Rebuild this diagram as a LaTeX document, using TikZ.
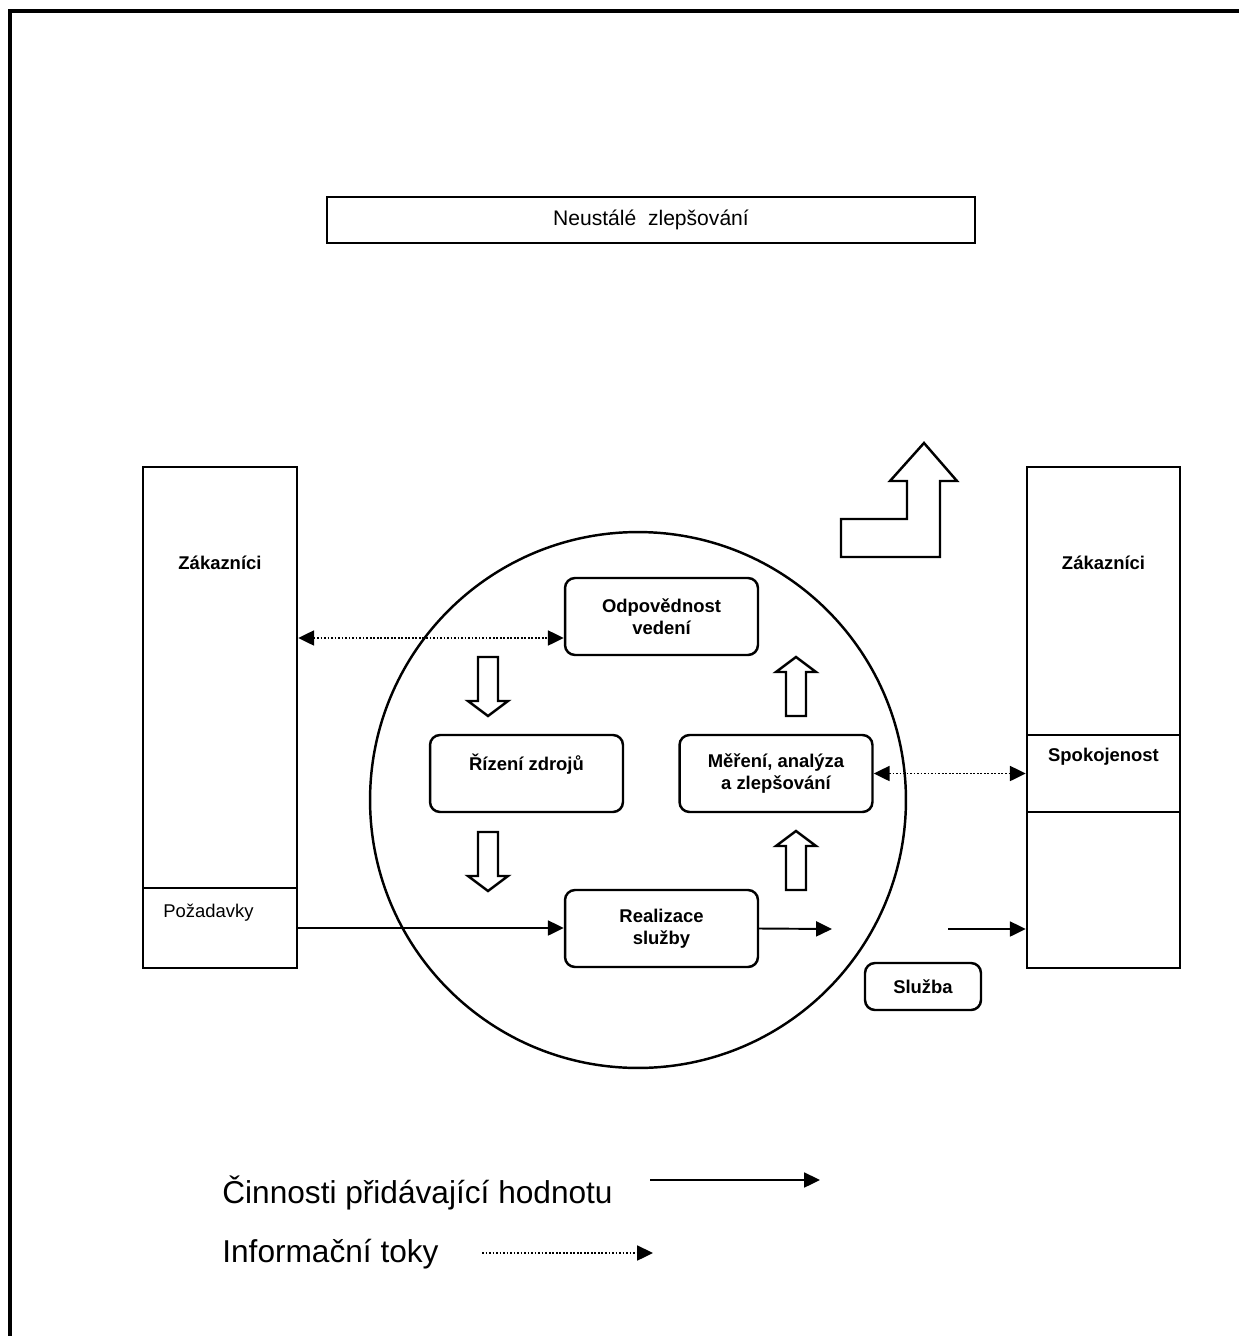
\documentclass[tikz,border=0pt]{standalone}
\usepackage{fontspec}
\setmainfont{Liberation Sans}
\usetikzlibrary{arrows.meta}

\tikzset{
  box/.style={draw, line width=1.4pt, inner sep=0pt},
  roundbox/.style={box, rounded corners=0.2cm, minimum width=3.86cm, minimum height=1.54cm,
    align=center, font=\fontsize{10.5}{12.5}\selectfont\bfseries},
  boldtxt/.style={font=\fontsize{10.5}{12.5}\selectfont\bfseries},
  plaintxt/.style={inner sep=0pt, font=\fontsize{10.5}{12.5}\selectfont},
  legendtxt/.style={inner sep=0pt, font=\fontsize{18}{21.6}\selectfont},
  valueflow/.style={line width=1.1pt},
  infoflow/.style={line width=1.1pt, dash pattern=on 1pt off 1pt},
  blockarrow/.style={draw, line width=1.4pt, line join=miter},
}

\begin{document}
\begin{tikzpicture}[x=0.02cm, y=-0.02cm, >={Triangle[length=9pt,width=8.5pt]}]
\useasboundingbox (0,0) rectangle (1239,1336);
\draw [line width=1.8pt] (10,1336) -- (10,11) -- (1239,11);

% top box
\node [box, minimum width=12.96cm, minimum height=0.92cm, font=\fontsize{12}{14}\selectfont] (improve) at (651,220) {Neustálé~~zlepšování};

% customers, left
\node [box, minimum width=3.08cm, minimum height=8.42cm] (lcol) at (220,677.5) {};
\node [box, minimum width=3.08cm, minimum height=1.6cm] (lreq) at (220,928) {};
\node [boldtxt] (lcust) at (220,563) {Zákazníci};
\node [plaintxt, anchor=base west] (lreqtxt) at (163,917) {Požadavky};

% customers, right
\node [box, minimum width=3.06cm, minimum height=5.36cm] (rcol) at (1103.5,601) {};
\node [box, minimum width=3.06cm, minimum height=1.54cm] (rsat) at (1103.5,773.5) {};
\node [box, minimum width=3.06cm, minimum height=3.12cm] (rbot) at (1103.5,890) {};
\node [boldtxt] (rcust) at (1103.5,563) {Zákazníci};
\node [boldtxt] (rsattxt) at (1103.5,757) {Spokojenost};

% process cycle
\node [draw, circle, line width=1.4pt, minimum size=10.72cm] (cycle) at (638,800) {};
\node [roundbox] (resp) at (661.5,616.5) {Odpovědnost\\vedení};
\node [roundbox] (res) at (526.5,773.5) {Řízení zdrojů\\\mbox{}};
\node [roundbox] (meas) at (776,773.5) {Měření, analýza\\a zlepšování};
\node [roundbox] (real) at (661.5,928.5) {Realizace\\služby};
\node [roundbox, minimum width=2.32cm, minimum height=0.94cm] (service) at (923,986.5) {Služba};

\foreach \y in {657,832}
  \draw [blockarrow] (478,\y) -- (498,\y) -- (498,{\y+44}) -- (508,{\y+44}) -- (488,{\y+59})
    -- (468,{\y+44}) -- (478,{\y+44}) -- cycle;
\foreach \y in {657,831}
  \draw [blockarrow] (796,\y) -- (816,{\y+15}) -- (806,{\y+15}) -- (806,{\y+59}) -- (786,{\y+59})
    -- (786,{\y+15}) -- (776,{\y+15}) -- cycle;
\draw [blockarrow] (841,557) -- (841,519) -- (907,519) -- (907,481) -- (890,481) -- (924,443)
  -- (957,481) -- (940,481) -- (940,557) -- cycle;

% flows
\coordinate (respin) at ([yshift=-0.43cm]resp.west);
\coordinate (realout) at (832,929);
\coordinate (servin) at (948,929);
\draw [infoflow, <->] (respin -| lcol.east) -- (respin);
\draw [infoflow, <->] (meas.east) -- (meas.east -| rsat.west);
\draw [valueflow, ->] (lreq.east) -- (lreq.east -| real.west);
\draw [valueflow, ->] (real.east) -- (realout);
\draw [valueflow, ->] (servin) -- (servin -| rbot.west);

% legend
\node [legendtxt, anchor=base west] (legvalue) at (222,1203) {Činnosti přidávající hodnotu};
\node [legendtxt, anchor=base west] (leginfo) at (222,1262) {Informační toky};
\coordinate (valuea) at (650,1180);
\coordinate (valueb) at (820,1180);
\coordinate (infoa) at (482,1253);
\coordinate (infob) at (653,1253);
\draw [valueflow, ->] (valuea) -- (valueb);
\draw [infoflow, ->] (infoa) -- (infob);
\end{tikzpicture}
\end{document}
